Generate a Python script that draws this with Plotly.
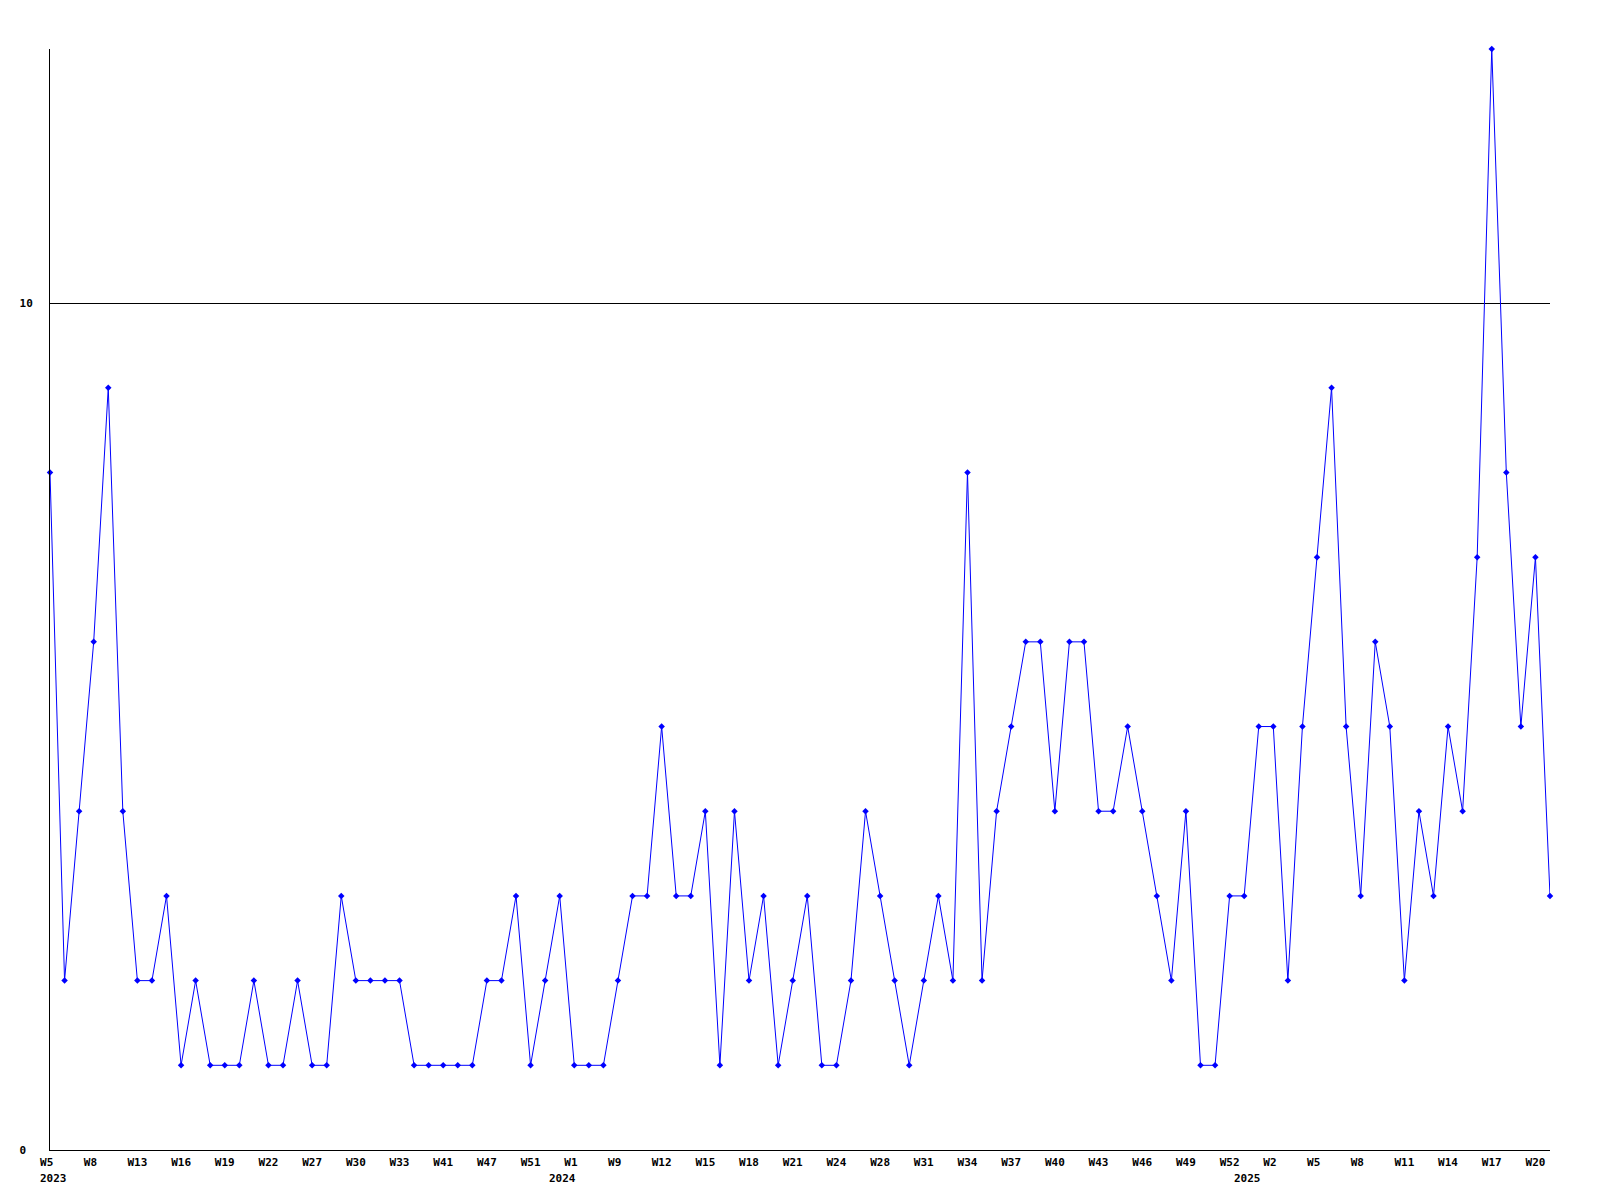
import plotly.graph_objects as go

# Weekly counts, W5 2023 .. W21 2025 (104 reported weeks)
values = [
    8, 2, 4, 6, 9, 4, 2, 2, 3, 1,
    2, 1, 1, 1, 2, 1, 1, 2, 1, 1,
    3, 2, 2, 2, 2, 1, 1, 1, 1, 1,
    2, 2, 3, 1, 2, 3, 1, 1, 1, 2,
    3, 3, 5, 3, 3, 4, 1, 4, 2, 3,
    1, 2, 3, 1, 1, 2, 4, 3, 2, 1,
    2, 3, 2, 8, 2, 4, 5, 6, 6, 4,
    6, 6, 4, 4, 5, 4, 3, 2, 4, 1,
    1, 3, 3, 5, 5, 2, 5, 7, 9, 5,
    3, 6, 5, 2, 4, 3, 5, 4, 7, 13,
    8, 5, 7, 3,
]

# Tick labels shown every third point
tick_labels = [
    "W5", "W8", "W13", "W16", "W19", "W22", "W27", "W30", "W33", "W41",
    "W47", "W51", "W1", "W9", "W12", "W15", "W18", "W21", "W24", "W28",
    "W31", "W34", "W37", "W40", "W43", "W46", "W49", "W52", "W2", "W5",
    "W8", "W11", "W14", "W17", "W20",
]
tick_step = 3

# Year labels and the point index where each year is marked
year_labels = ["2023", "2024", "2025"]
year_positions = [0, 35, 82]

y_tick_vals = [0, 10]
y_tick_text = ["0\u00a0", "10"]

x = list(range(len(values)))
tick_vals = [i * tick_step for i in range(len(tick_labels))]
tick_text = [t if len(t) >= 3 else t + "\u00a0" for t in tick_labels]

FONT = "DejaVu Sans Mono"

fig = go.Figure()
fig.add_trace(go.Scatter(
    x=x, y=values,
    mode="lines+markers",
    line=dict(color="#0000ff", width=1),
    marker=dict(symbol="diamond", size=5, color="#0000ff"),
    cliponaxis=False,
    showlegend=False,
))

for lab, pos in zip(year_labels, year_positions):
    fig.add_annotation(
        x=pos, y=0, xref="x", yref="paper",
        text=f"<b>{lab}</b>", showarrow=False,
        xanchor="center", yanchor="top", xshift=3, yshift=-20,
        font=dict(family=FONT, size=11, color="black"),
    )

fig.update_layout(
    width=1600, height=1200,
    margin=dict(l=42, r=58, t=41, b=58),
    paper_bgcolor="white", plot_bgcolor="white",
    font=dict(family=FONT, size=11, color="black"),
    xaxis=dict(
        range=[0, len(values) - 1],
        tickvals=tick_vals,
        ticktext=[f"<b>{t}</b>" for t in tick_text],
        showgrid=False, zeroline=False,
        showline=True, linecolor="black", linewidth=1,
        ticks="outside", ticklen=2, tickcolor="rgba(0,0,0,0)",
        tickangle=0,
        tickfont=dict(family=FONT, size=11, color="black"),
    ),
    yaxis=dict(
        range=[0, 13],
        tickvals=y_tick_vals,
        ticktext=[f"<b>{t}</b>" for t in y_tick_text],
        showgrid=True, gridcolor="black", gridwidth=1,
        zeroline=False,
        showline=True, linecolor="black", linewidth=1,
        ticks="outside", ticklen=14, tickcolor="rgba(0,0,0,0)",
        tickfont=dict(family=FONT, size=11, color="black"),
    ),
)

fig.write_html("out.html")
